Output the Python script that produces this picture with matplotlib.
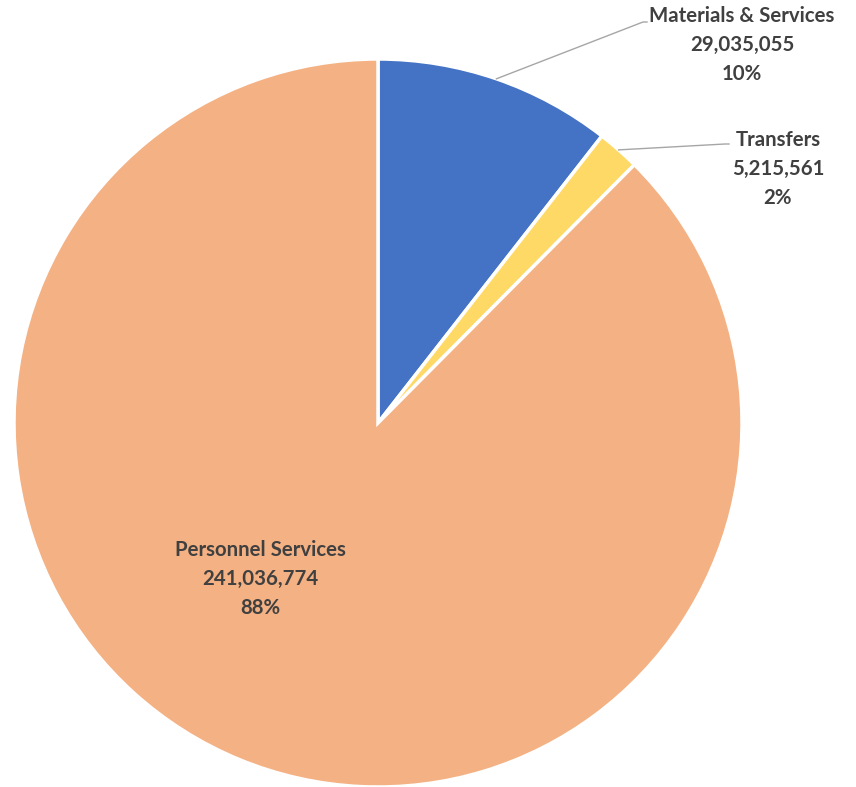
import numpy as np
import matplotlib.pyplot as plt

categories = ['Materials & Services', 'Transfers', 'Personnel Services']
values = [29035055, 5215561, 241036774]
percent_labels = ['10%', '2%', '88%']
colors = ['#4472C4', '#FFD966', '#F4B183']

W, H = 856, 787
fig = plt.figure(figsize=(W / 100, H / 100), dpi=100)

# pie centre and radius in pixels
cx, cy, r = 378, 423, 364
ax = fig.add_axes([(cx - r) / W, (H - cy - r) / H, 2 * r / W, 2 * r / H])
ax.axis('off')

wedges, _ = ax.pie(values, colors=colors, startangle=90, counterclock=False,
                   radius=1, wedgeprops=dict(edgecolor='white', linewidth=2.5))
ax.set_xlim(-1, 1)
ax.set_ylim(-1, 1)

labels = ['{}\n{:,}\n{}'.format(c, v, p) for c, v, p in zip(categories, values, percent_labels)]


def fpos(x, y):
    return x / W, 1 - y / H


txt = dict(ha='center', va='center', fontsize=14.7, fontweight='bold', color='#404040',
           family='Lato', linespacing=1.55)

# label positions (pixel, centre of text block) and leader end points
label_pos = [(742, 45), (778, 169), (260, 579)]
leader_end = [(643, 22), (725, 144), None]

for i, w in enumerate(wedges):
    fig.text(*fpos(*label_pos[i]), labels[i], **txt)
    if leader_end[i] is not None:
        mid = np.deg2rad((w.theta1 + w.theta2) / 2)
        sx, sy = cx + r * np.cos(mid), cy - r * np.sin(mid)
        ex, ey = leader_end[i]
        fig.add_artist(plt.Line2D([sx / W, ex / W, (ex + 4) / W],
                                  [1 - sy / H, 1 - ey / H, 1 - ey / H],
                                  transform=fig.transFigure, color='#A6A6A6', lw=1))

fig.savefig('out.png', dpi=100)
